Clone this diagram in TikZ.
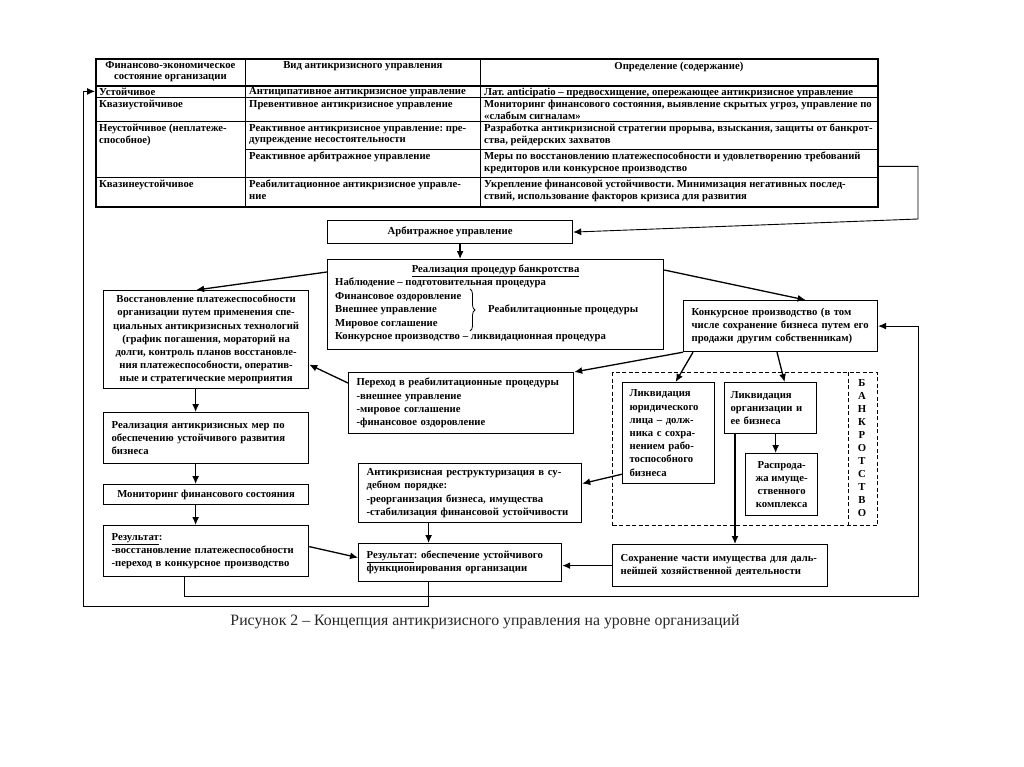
\documentclass[tikz,border=0pt]{standalone}
\usepackage{fontspec}
\setmainfont{Liberation Serif}
\usetikzlibrary{arrows.meta,decorations.pathreplacing,calc}
\begin{document}
\frenchspacing
\begin{tikzpicture}[x=1pt,y=-1pt]
\tikzset{
  fnt/.style={font=\bfseries\fontsize{10.7}{13.2}\selectfont},
  tfnt/.style={font=\bfseries\fontsize{10.7}{11.6}\selectfont},
  bx/.style={draw, line width=1.2pt, anchor=north west, inner sep=0pt, align=left, fnt},
  lbx/.style={draw, line width=1.2pt, anchor=north west, inner xsep=8pt, inner ysep=0pt, align=left, fnt},
  cell/.style={draw, line width=0.8pt, anchor=north west, inner sep=0pt},
  tx/.style={inner sep=0pt, align=left, tfnt},
  arr/.style={line width=1.3pt, -{Latex[length=8pt,width=7pt]}},
  lp/.style={line width=0.9pt, -{Latex[length=8pt,width=7pt]}},
  dsh/.style={line width=1pt, dash pattern=on 4pt off 2.5pt},
}
\fill[white] (0,0) rectangle (1024,767);
\useasboundingbox (0,0) rectangle (1024,767);

% ---------- table ----------
\node[cell, minimum width=150pt, minimum height=27pt] (c01) at (95,58) {};
\node[cell, minimum width=235pt, minimum height=27pt] (c02) at (245,58) {};
\node[cell, minimum width=397pt, minimum height=27pt] (c03) at (480,58) {};
\node[cell, minimum width=150pt, minimum height=12pt] (c11) at (95,85) {};
\node[cell, minimum width=235pt, minimum height=12pt] (c12) at (245,85) {};
\node[cell, minimum width=397pt, minimum height=12pt] (c13) at (480,85) {};
\node[cell, minimum width=150pt, minimum height=24pt] (c21) at (95,97) {};
\node[cell, minimum width=235pt, minimum height=24pt] (c22) at (245,97) {};
\node[cell, minimum width=397pt, minimum height=24pt] (c23) at (480,97) {};
\node[cell, minimum width=150pt, minimum height=56pt] (c31) at (95,121) {};
\node[cell, minimum width=235pt, minimum height=28pt] (c32) at (245,121) {};
\node[cell, minimum width=397pt, minimum height=28pt] (c33) at (480,121) {};
\node[cell, minimum width=235pt, minimum height=28pt] (c34) at (245,149) {};
\node[cell, minimum width=397pt, minimum height=28pt] (c35) at (480,149) {};
\node[cell, minimum width=150pt, minimum height=29pt] (c41) at (95,177) {};
\node[cell, minimum width=235pt, minimum height=29pt] (c42) at (245,177) {};
\node[cell, minimum width=397pt, minimum height=29pt] (c43) at (480,177) {};
\node[draw, line width=1.6pt, anchor=north west, inner sep=0pt, minimum width=782pt, minimum height=148pt] (tab) at (95,58) {};
\draw[line width=1.6pt] (c01.south west) -- (c03.south east);

\node[tx, anchor=north, align=center] (h1) at ([yshift=-3pt]c01.north) {Финансово-экономическое\\состояние организации};
\node[tx, anchor=north] (h2) at ([yshift=-3pt]c02.north) {Вид антикризисного управления};
\node[tx, anchor=north] (h3) at ([yshift=-4pt]c03.north) {Определение (содержание)};

\node[tx, anchor=north west] (t11) at ([shift={(4pt,-2.5pt)}]c11.north west) {Устойчивое};
\node[tx, anchor=north west] (t12) at ([shift={(4pt,-2.5pt)}]c12.north west) {Антиципативное антикризисное управление};
\node[tx, anchor=north west] (t13) at ([shift={(4pt,-2.5pt)}]c13.north west) {Лат. anticipatio – предвосхищение, опережающее антикризисное управление};
\node[tx, anchor=north west] (t21) at ([shift={(4pt,-3pt)}]c21.north west) {Квазиустойчивое};
\node[tx, anchor=north west] (t22) at ([shift={(4pt,-3pt)}]c22.north west) {Превентивное антикризисное управление};
\node[tx, anchor=north west] (t23) at ([shift={(4pt,-3pt)}]c23.north west) {Мониторинг финансового состояния, выявление скрытых угроз, управление по\\«слабым сигналам»};
\node[tx, anchor=north west] (t31) at ([shift={(4pt,-3pt)}]c31.north west) {Неустойчивое (неплатеже-\\способное)};
\node[tx, anchor=north west] (t32) at ([shift={(4pt,-3pt)}]c32.north west) {Реактивное антикризисное управление: пре-\\дупреждение несостоятельности};
\node[tx, anchor=north west] (t33) at ([shift={(4pt,-3pt)}]c33.north west) {Разработка антикризисной стратегии прорыва, взыскания, защиты от банкрот-\\ства, рейдерских захватов};
\node[tx, anchor=north west] (t34) at ([shift={(4pt,-3pt)}]c34.north west) {Реактивное арбитражное управление};
\node[tx, anchor=north west] (t35) at ([shift={(4pt,-3pt)}]c35.north west) {Меры по восстановлению платежеспособности и удовлетворению требований\\кредиторов или конкурсное производство};
\node[tx, anchor=north west] (t41) at ([shift={(4pt,-3pt)}]c41.north west) {Квазинеустойчивое};
\node[tx, anchor=north west] (t42) at ([shift={(4pt,-3pt)}]c42.north west) {Реабилитационное антикризисное управле-\\ние};
\node[tx, anchor=north west] (t43) at ([shift={(4pt,-3pt)}]c43.north west) {Укрепление финансовой устойчивости. Минимизация негативных послед-\\ствий, использование факторов кризиса для развития};

% ---------- boxes ----------
\node[bx, minimum width=245pt, minimum height=23pt, align=center] (arb) at (327,220) {Арбитражное управление};
\node[bx, minimum width=336pt, minimum height=90pt] (real) at (327,259) {};
\node[tx, anchor=north, fnt] (realh) at ([yshift=-6pt]real.north) {\underline{Реализация процедур банкротства}};
\node[tx, anchor=north west, font=\bfseries\fontsize{10.7}{13.5}\selectfont] (reall) at (335,278) {Наблюдение – подготовительная процедура\\Финансовое оздоровление\\Внешнее управление\\Мировое соглашение\\Конкурсное производство – ликвидационная процедура};
\coordinate (br1) at (470,289);
\coordinate (br2) at (470,331);
\draw[decorate, decoration={brace, amplitude=5pt}, line width=0.8pt] (br1) -- (br2);
\node[tx, anchor=west, fnt] (reab) at (488,310) {Реабилитационные процедуры};

\node[bx, minimum width=205pt, minimum height=98pt, align=center] (vost) at (103,290) {Восстановление платежеспособности\\организации путем применения спе-\\циальных антикризисных технологий\\(график погашения, мораторий на\\долги, контроль планов восстановле-\\ния платежеспособности, оператив-\\ные и стратегические мероприятия};
\node[lbx, text width=189pt, minimum height=51pt] (realiz) at (103,412) {Реализация антикризисных мер по\\обеспечению устойчивого развития\\бизнеса};
\node[bx, minimum width=205pt, minimum height=20pt, align=center] (monit) at (103,484) {Мониторинг финансового состояния};
\node[lbx, text width=189pt, minimum height=51pt] (rez1) at (103,525) {\underline{Результат}:\\-восстановление платежеспособности\\-переход в конкурсное производство};
\node[lbx, text width=187pt, minimum height=38pt] (rez2) at (358,543) {\underline{Результат}: обеспечение устойчивого\\функционирования организации};
\node[lbx, text width=207pt, minimum height=59pt] (restr) at (358,463) {Антикризисная реструктуризация в су-\\дебном порядке:\\-реорганизация бизнеса, имущества\\-стабилизация финансовой устойчивости};
\node[lbx, text width=209pt, minimum height=61pt] (perehod) at (348,372) {Переход в реабилитационные процедуры\\-внешнее управление\\-мировое соглашение\\-финансовое оздоровление};
\node[lbx, text width=178pt, minimum height=51pt] (konk) at (683,300) {Конкурсное производство (в том\\числе сохранение бизнеса путем его\\продажи другим собственникам)};

\node[draw, dsh, anchor=north west, inner sep=0pt, minimum width=265pt, minimum height=153pt] (bankr) at (612,372) {};
\draw[dsh] ([xshift=-30pt]bankr.north east) -- ([xshift=-30pt]bankr.south east);
\node[tx, align=center, font=\bfseries\fontsize{10.7}{13}\selectfont] (bword) at (862,448.5) {Б\\А\\Н\\К\\Р\\О\\Т\\С\\Т\\В\\О};
\node[lbx, text width=78pt, inner xsep=7pt, minimum height=101pt] (likv1) at (622,382) {Ликвидация\\юридического\\лица – долж-\\ника с сохра-\\нением рабо-\\тоспособного\\бизнеса};
\node[lbx, text width=80pt, inner xsep=6pt, minimum height=51pt] (likv2) at (724,382) {Ликвидация\\организации и\\ее бизнеса};
\node[bx, minimum width=72pt, minimum height=62pt, align=center] (rasp) at (745,453) {Распрода-\\жа имуще-\\ственного\\комплекса};
\node[lbx, text width=199pt, minimum height=42pt] (sohr) at (612,544) {Сохранение части имущества для даль-\\нейшей хозяйственной деятельности};

\node[font=\fontsize{15.8}{18}\selectfont, text=black!85, inner sep=0pt] (cap) at (485,622) {Рисунок 2 – Концепция антикризисного управления на уровне организаций};

% ---------- connectors ----------
\draw[arr] ([xshift=10pt]arb.south) -- ([xshift=10pt]arb.south |- real.north);
\draw[arr] ([yshift=-13pt]real.north west) -- ([xshift=-10pt]vost.north);
\draw[arr] ([yshift=-11pt]real.north east) -- ([xshift=25pt]konk.north);
\draw[arr] (konk.south west) -- (perehod.north east);
\draw[arr] ([xshift=10pt]konk.south west) -- ([xshift=7pt]likv1.north);
\draw[arr] ([xshift=94pt]konk.south west) -- ([xshift=14pt]likv2.north);
\draw[arr] ([xshift=5pt]likv2.south) -- ([xshift=5pt]likv2.south |- rasp.north);
\draw[arr] ([xshift=11pt]likv2.south west) -- ([xshift=11pt]likv2.south west |- sohr.north);
\draw[arr] ([yshift=10pt]likv1.south west) -- ([yshift=9.5pt]restr.east);
\draw[arr] ([yshift=-11pt]perehod.north west) -- ([yshift=-25pt]vost.east);
\draw[arr] ([xshift=-10.5pt]vost.south) -- ([xshift=-10.5pt]realiz.north);
\draw[arr] ([xshift=-10.5pt]realiz.south) -- ([xshift=-10.5pt]monit.north);
\draw[arr] ([xshift=-10.5pt]monit.south) -- ([xshift=-10.5pt]rez1.north);
\draw[arr] ([yshift=4.5pt]rez1.east) -- ([yshift=5pt]rez2.west);
\draw[arr] ([xshift=-41.5pt]restr.south) -- ([xshift=-41.5pt]restr.south |- rez2.north);
\draw[arr] (sohr.west) -- (sohr.west -| rez2.east);

\coordinate (la) at (83,606);
\coordinate (lb) at (918,596);
\coordinate (lc) at (918,219);
\draw[lp] ([xshift=-31.5pt]rez2.south) |- (la) |- (c11.west);
\draw[lp] ([xshift=-21.5pt]rez1.south) |- (lb) |- (konk.east);
\draw[lp] ([yshift=-3pt]c35.east) -| (lc) -- (arb.east);
\end{tikzpicture}
\end{document}
